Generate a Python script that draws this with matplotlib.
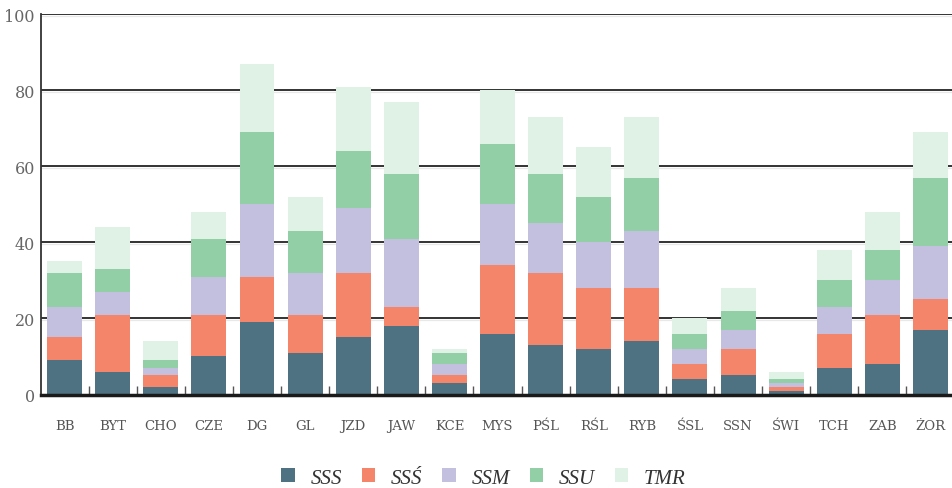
import matplotlib
matplotlib.use("Agg")
import matplotlib.pyplot as plt
from matplotlib.patches import Patch
import numpy as np

categories = ["BB", "BYT", "CHO", "CZE", "DG", "GL", "JZD", "JAW", "KCE", "MYS",
              "PŚL", "RŚL", "RYB", "ŚSL", "SSN", "ŚWI", "TCH", "ZAB", "ŻOR"]
series_names = ["SSS", "SSŚ", "SSM", "SSU", "TMR"]
sss = [9, 6, 2, 10, 19, 11, 15, 18, 3, 16, 13, 12, 14, 4, 5, 1, 7, 8, 17]
sss_acc = [6, 15, 3, 11, 12, 10, 17, 5, 2, 18, 19, 16, 14, 4, 7, 1, 9, 13, 8]
ssm = [8, 6, 2, 10, 19, 11, 17, 18, 3, 16, 13, 12, 15, 4, 5, 1, 7, 9, 14]
ssu = [9, 6, 2, 10, 19, 11, 15, 17, 3, 16, 13, 12, 14, 4, 5, 1, 7, 8, 18]
tmr = [3, 11, 5, 7, 18, 9, 17, 19, 1, 14, 15, 13, 16, 4, 6, 2, 8, 10, 12]
colors = ["#4e7282", "#f4846a", "#c3bfde", "#92cfa7", "#e0f1e6"]
yticks = [0, 20, 40, 60, 80, 100]

fig = plt.figure(figsize=(9.52, 4.89), dpi=100)
W, H = 952, 489
step = 48.11
left_px = 40.5
ax = fig.add_axes([left_px / W, (H - 395.5) / H, step * 19 / W, (395.5 - 15.3) / H])

x = np.arange(len(categories))
bottom = np.zeros(len(categories))
for vals, col in zip([sss, sss_acc, ssm, ssu, tmr], colors):
    ax.bar(x, vals, width=0.727, bottom=bottom, color=col, zorder=3, linewidth=0)
    bottom += np.array(vals)

ax.set_xlim(-0.5, len(categories) - 0.5)
ax.set_ylim(0, 100)
ax.set_yticks(yticks)
ax.set_yticklabels([str(v) for v in yticks], family="DejaVu Serif", fontsize=11.5, color="#666666")
ax.tick_params(axis="y", length=0, pad=4)

ax.set_xticks(x)
ax.set_xticklabels(categories, family="DejaVu Serif", fontsize=9.5, color="#555555")
ax.tick_params(axis="x", which="major", length=0, pad=18)
ax.set_xticks(np.arange(0.5, len(categories) - 1, 1.0), minor=True)
ax.tick_params(axis="x", which="minor", direction="in", length=6.5, width=1, color="#555555")

for v in yticks[1:]:
    ax.axhline(v - 0.4, color="#e8e8e8", lw=0.9, zorder=1)
    ax.axhline(v, color="#333333", lw=1.4, zorder=2)

for s in ["top", "right"]:
    ax.spines[s].set_visible(False)
ax.spines["left"].set_color("#333333")
ax.spines["left"].set_linewidth(1.3)
ax.spines["bottom"].set_color("#1a1a1a")
ax.spines["bottom"].set_linewidth(2.5)
ax.spines["bottom"].set_zorder(4)

handles = [Patch(facecolor=c, edgecolor="none") for c in colors]
fig.legend(handles, series_names, loc="center", bbox_to_anchor=(483.5 / W, 10 / H),
           ncol=5, frameon=False, handlelength=0.65, handleheight=0.65,
           handletextpad=0.75, columnspacing=0.95,
           prop={"family": "Liberation Serif", "style": "italic", "size": 15})
for t in fig.legends[0].get_texts():
    t.set_color("#333333")

fig.savefig("out.png", dpi=100)
